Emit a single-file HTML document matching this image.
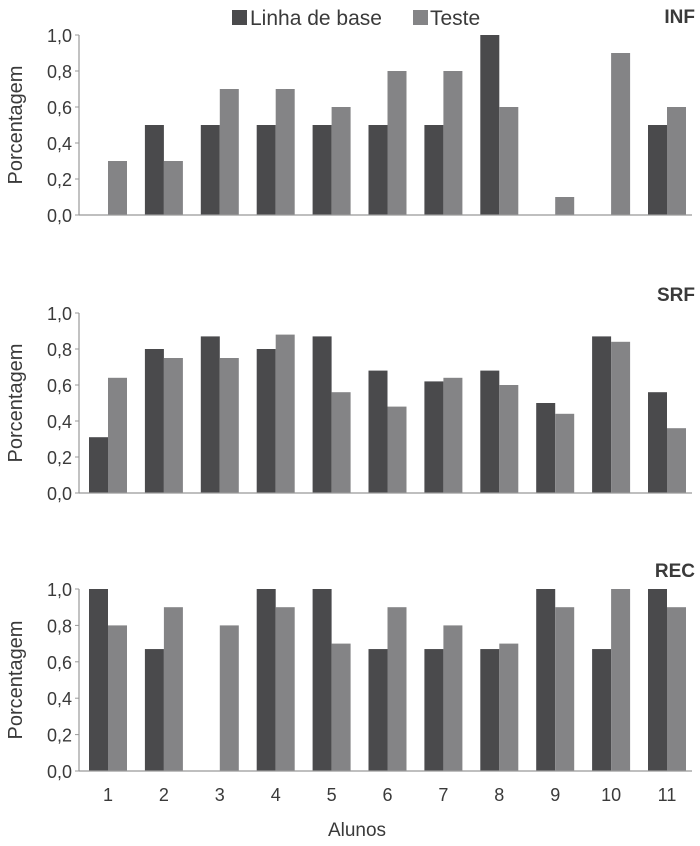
<!DOCTYPE html>
<html><head><meta charset="utf-8"><style>
body{margin:0;background:#fff;}
svg text{font-family:"Liberation Sans",sans-serif;fill:#3a3a3a;}
</style></head><body>
<svg id="chart" width="700" height="841" xmlns="http://www.w3.org/2000/svg">
<g>
<rect x="232" y="10" width="15" height="15" fill="#4a4a4c"/>
<text x="250" y="25" font-size="21">Linha de base</text>
<rect x="413" y="10" width="15" height="15" fill="#848486"/>
<text x="430" y="25" font-size="21">Teste</text>
</g>
<text x="357" y="836" font-size="19" text-anchor="middle">Alunos</text>
</svg>
<script>
const categories=['1','2','3','4','5','6','7','8','9','10','11'];
const yTicks=['0,0','0,2','0,4','0,6','0,8','1,0'];
const panelNames=['INF','SRF','REC'];
const infBase=[0,0.5,0.5,0.5,0.5,0.5,0.5,1.0,0,0,0.5];
const infTest=[0.3,0.3,0.7,0.7,0.6,0.8,0.8,0.6,0.1,0.9,0.6];
const srfBase=[0.31,0.8,0.87,0.8,0.87,0.68,0.62,0.68,0.5,0.87,0.56];
const srfTest=[0.64,0.75,0.75,0.88,0.56,0.48,0.64,0.6,0.44,0.84,0.36];
const recBase=[1,0.67,0,1,1,0.67,0.67,0.67,1,0.67,1];
const recTest=[0.8,0.9,0.8,0.9,0.7,0.9,0.8,0.7,0.9,1,0.9];
const series=[[infBase,infTest],[srfBase,srfTest],[recBase,recTest]];
const NS='http://www.w3.org/2000/svg';
const svg=document.getElementById('chart');
const panels=[{top:35,bot:215},{top:313,bot:493},{top:589,bot:771}];
const x0=79,x1=692,c0=108,step=55.9,bw=19;
function xc(i){return c0+i*step;}
function mk(tag,attrs,parent){const e=document.createElementNS(NS,tag);for(const k in attrs)e.setAttribute(k,attrs[k]);(parent||svg).appendChild(e);return e;}
panels.forEach((p,pi)=>{
  const g=mk('g',{});
  
  
  const y=v=>p.bot-(p.bot-p.top)*v;
  yTicks.forEach((t,ti)=>{
    const v=ti/(yTicks.length-1);
    const tk=mk('line',{x1:x0-4,x2:x0,y1:y(v),y2:y(v),stroke:'#999','stroke-width':1},g);
    
    
    const tl=mk('text',{x:x0-7,y:y(v)+7,'font-size':18,'text-anchor':'end'},g);
    
    
    tl.textContent=t;
  });
  const [b,t]=series[pi];
  categories.forEach((c,i)=>{
    const r1=mk('rect',{x:xc(i)-bw,y:y(b[i]),width:bw,height:p.bot-y(b[i]),fill:'#4a4a4c'},g);
    
    
    const r2=mk('rect',{x:xc(i),y:y(t[i]),width:bw,height:p.bot-y(t[i]),fill:'#848486'},g);
    
    
  });
  const ya=mk('line',{x1:x0,x2:x0,y1:p.top,y2:p.bot,stroke:'#999','stroke-width':1.2},g);
  
  
  const xa=mk('line',{x1:x0,x2:x1,y1:p.bot,y2:p.bot,stroke:'#999','stroke-width':1.2},g);
  
  
  const yt=mk('text',{x:0,y:0,'font-size':20,'text-anchor':'middle',transform:'translate(22,'+((p.top+p.bot)/2)+') rotate(-90)'},g);
  
  
  yt.textContent='Porcentagem';
  const pt=mk('text',{x:695,y:p.top-12,'font-size':19,'font-weight':'bold','text-anchor':'end'},g);
  
  
  pt.textContent=panelNames[pi];
});
categories.forEach((c,i)=>{
  const t=mk('text',{x:xc(i),y:801,'font-size':18,'text-anchor':'middle'});
  
  
  t.textContent=c;
});
</script>
</body></html>
